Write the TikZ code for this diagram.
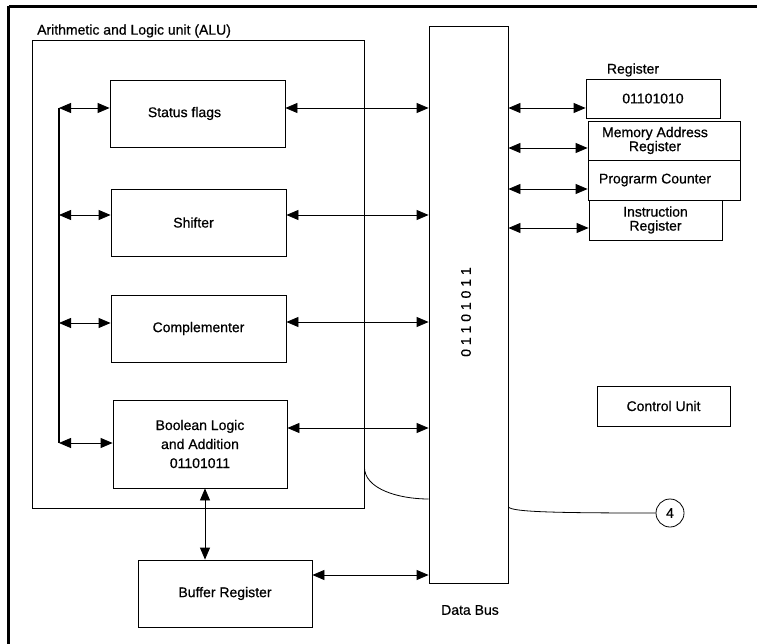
\documentclass[tikz,border=0pt]{standalone}
\usepackage{fontspec}
\setmainfont[FakeBold=0.6]{Liberation Sans}
\usetikzlibrary{arrows.meta}
\tikzset{
  box/.style={draw, line width=0.8pt, inner sep=0pt, align=center},
  dbl/.style={line width=0.8pt, {Triangle[length=12pt,width=10pt]}-{Triangle[length=12pt,width=10pt]}},
  thin line/.style={line width=0.8pt},
  frame/.style={line width=3pt},
}
\begin{document}
\begin{tikzpicture}[x=1pt,y=-1pt,font=\fontsize{14}{17}\selectfont]
\useasboundingbox (0,0) rectangle (757,644);
% outer frame (top and left only)
\draw[frame] (8.5,6.5) -- (757,6.5);
\draw[frame] (8.5,6.5) -- (8.5,644);

% ALU
\node[box, minimum width=332pt, minimum height=468pt] (alu) at (198,274) {};
\node[anchor=west, inner sep=0pt] (alulabel) at (37,31) {Arithmetic and Logic unit (ALU)};

\node[box, minimum width=175pt, minimum height=67pt,
      label={[xshift=-13pt]center:Status flags}] (status) at (197.5,113.5) {};
\node[box, minimum width=175pt, minimum height=67pt,
      label={[xshift=-5pt]center:Shifter}] (shifter) at (198.5,222.5) {};
\node[box, minimum width=175pt, minimum height=67pt] (compl) at (198.5,328.5) {Complementer};
\node[box, minimum width=174pt, minimum height=88pt, font=\fontsize{14}{19}\selectfont] (bool) at (200,444) {Boolean Logic\\and Addition\\01101011};
\node[box, minimum width=174pt, minimum height=67pt] (buffer) at (225,593.5) {Buffer Register};

% data bus
\node[box, minimum width=79pt, minimum height=557pt] (bus) at (468.5,304.5) {};
\node[rotate=90, inner sep=0pt] (bustext) at (466,312) {0 1 1 0 1 0 1 1};
\node (buslabel) at (470,610) {Data Bus};

% registers
\node (reglabel) at (633,70) {Register};
\node[box, minimum width=134pt, minimum height=39pt] (reg) at (653,98.5) {01101010};
\node[box, minimum width=152pt, minimum height=39pt,
      label={[xshift=-9pt, align=center, font=\fontsize{14}{14}\selectfont]center:Memory Address\\Register}] (mar) at (664,140.5) {};
\node[box, minimum width=152pt, minimum height=40pt,
      label={[xshift=-9pt]center:Prograrm Counter}] (pc) at (664,180) {};
\node[box, minimum width=133pt, minimum height=40pt, font=\fontsize{14}{14}\selectfont] (ir) at (655.5,220) {Instruction\\Register};

\node[box, minimum width=133pt, minimum height=40pt] (ctrl) at (663.5,406) {Control Unit};
\node[draw, circle, line width=0.8pt, minimum size=28pt, inner sep=0pt] (four) at (670,513) {4};

% left internal bus
\coordinate (l1) at (59,108);
\coordinate (l2) at (59,215);
\coordinate (l3) at (59,323);
\coordinate (l4) at (59,443);
\draw[line width=2.2pt] (l1) -- (l4);
\draw[dbl] (l1) -- (l1 -| status.west);
\draw[dbl] (l2) -- (l2 -| shifter.west);
\draw[dbl] (l3) -- (l3 -| compl.west);
\draw[dbl] (l4) -- (l4 -| bool.west);

% ALU boxes to data bus
\coordinate (r1) at (status.east |- 0,108);
\coordinate (r2) at (shifter.east |- 0,215);
\coordinate (r3) at (compl.east |- 0,322);
\coordinate (r4) at (bool.east |- 0,428);
\coordinate (r5) at (buffer.east |- 0,575);
\draw[dbl] (r1) -- (r1 -| bus.west);
\draw[dbl] (r2) -- (r2 -| bus.west);
\draw[dbl] (r3) -- (r3 -| bus.west);
\draw[dbl] (r4) -- (r4 -| bus.west);
\draw[dbl] (r5) -- (r5 -| bus.west);

% boolean to buffer
\coordinate (v1) at (205,0);
\draw[dbl] (v1 |- bool.south) -- (v1 |- buffer.north);

% data bus to registers
\coordinate (q1) at (bus.east |- 0,108);
\coordinate (q2) at (bus.east |- 0,148);
\coordinate (q3) at (bus.east |- 0,189);
\coordinate (q4) at (bus.east |- 0,228);
\draw[dbl] (q1) -- (q1 -| reg.west);
\draw[dbl] (q2) -- (q2 -| mar.west);
\draw[dbl] (q3) -- (q3 -| pc.west);
\draw[dbl] (q4) -- (q4 -| ir.west);

% curves
\coordinate (c1) at (alu.east |- 0,467);
\coordinate (c2) at (bus.west |- 0,499);
\draw[thin line] (c1) .. controls ([yshift=-22pt]c1) and ([xshift=-30pt]c2) .. (c2);
\coordinate (c3) at (bus.east |- 0,507);
\draw[thin line] (c3) .. controls ([xshift=4pt,yshift=-5pt]c3) and ([xshift=-100pt]four.west) .. (four.west);
\end{tikzpicture}
\end{document}
